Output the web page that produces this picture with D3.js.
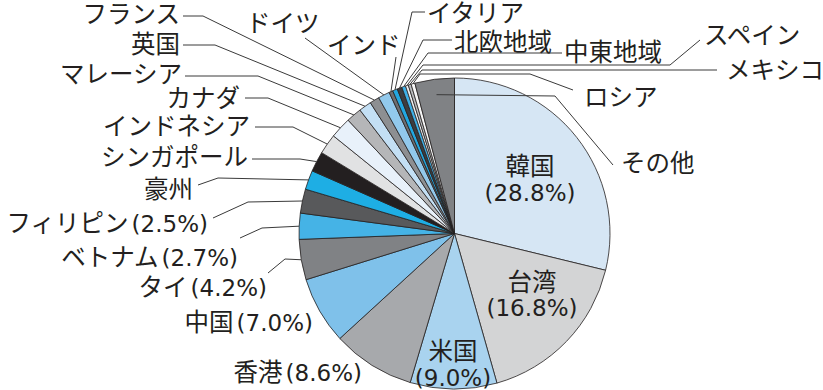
<!DOCTYPE html>
<html lang="ja">
<head>
  <meta charset="UTF-8">
  <title>輸出先別シェア</title>
  <script src="https://d3js.org/d3.v7.min.js"></script>
  <style>
    html, body {
      margin: 0;
      padding: 0;
      background: #fff;
    }
    svg text {
      font-family: "DejaVu Sans", "Noto Sans CJK JP", sans-serif;
      fill: #231f20;
    }
    .name { font-size: 24.5px; }
    .pct { font-size: 23px; }
    .slice {
      stroke: #231f20;
      stroke-width: 0.8px;
    }
    .leader {
      fill: none;
      stroke: #3a3a3a;
      stroke-width: 1px;
    }
  </style>
</head>
<body>
  <svg id="chart" width="823" height="390"></svg>

  <script>
    // shares (clockwise from 12 o'clock)
    const categories = ["韓国", "台湾", "米国", "香港", "中国", "タイ", "ベトナム", "フィリピン",
      "豪州", "シンガポール", "インドネシア", "カナダ", "マレーシア", "英国", "フランス", "ドイツ",
      "インド", "イタリア", "北欧地域", "中東地域", "スペイン", "メキシコ", "ロシア", "その他"];
    const shares = [28.8, 16.8, 9.0, 8.6, 7.0, 4.2, 2.7, 2.5,
      2.0, 2.1, 2.1, 2.2, 1.6, 1.3, 1.0, 1.2,
      0.4, 0.5, 0.5, 0.4, 0.3, 0.3, 0.4, 4.1];
    // only the larger markets carry a percentage
    const withPercent = ["韓国", "台湾", "米国", "香港", "中国", "タイ", "ベトナム", "フィリピン"];

    const colors = ["#d6e6f4", "#d3d4d5", "#a9d3ef", "#a7a9ac", "#7fc1ea", "#808285", "#45b3e6", "#58595b",
      "#1eaee4", "#231f20", "#e1e2e3", "#e8f1fa", "#b5b6b8", "#c3dff4", "#8d8f92", "#92c9ec",
      "#6d6e71", "#22a7e0", "#3d3d3f", "#3fb0e6", "#eeeff0", "#bcbec0", "#f6f6f6", "#808285"];

    const svg = d3.select("#chart");
    const cx = 454.5, cy = 233.5, R = 155.5;

    const fmt = d3.format(".1f");
    const pctText = i => `(${fmt(shares[i])}%)`;

    const pie = d3.pie().sort(null).value(d => d)(shares);
    const arc = d3.arc().innerRadius(0).outerRadius(R);

    const g = svg.append("g").attr("transform", `translate(${cx},${cy})`);

    g.selectAll("path")
      .data(pie)
      .join("path")
        .attr("class", "slice")
        .attr("d", arc)
        .attr("fill", (d, i) => colors[i]);

    // point on slice i at radius r (mid angle)
    const midPoint = (i, r) => {
      const a = (pie[i].startAngle + pie[i].endAngle) / 2;
      return [cx + r * Math.sin(a), cy - r * Math.cos(a)];
    };

    // labels inside the pie: name on top, share below
    const innerLayout = [
      { i: 0, x: 530, y1: 166, y2: 193 },
      { i: 1, x: 532, y1: 282, y2: 308 },
      { i: 2, x: 453, y1: 351, y2: 378 }
    ];
    innerLayout.forEach(l => {
      svg.append("text").attr("class", "name").attr("x", l.x).attr("y", l.y1).attr("dy", "0.38em")
        .attr("text-anchor", "middle").text(categories[l.i]);
      svg.append("text").attr("class", "pct").attr("x", l.x).attr("y", l.y2).attr("dy", "0.36em")
        .attr("text-anchor", "middle").text(pctText(l.i));
    });

    // labels outside with leader lines (last point lands on the slice)
    const outerLayout = [
      { i: 3, x: 362, y: 372, anchor: "end" },
      { i: 4, x: 313, y: 322, anchor: "end" },
      { i: 5, x: 267, y: 287, anchor: "end", line: [[268, 273], [285, 259]] },
      { i: 6, x: 238, y: 257, anchor: "end", line: [[240, 238], [262, 228]] },
      { i: 7, x: 208, y: 223, anchor: "end", line: [[213, 218], [248, 202]] },
      { i: 8, x: 193, y: 189, anchor: "end", line: [[198, 185], [218, 178]] },
      { i: 9, x: 248, y: 157, anchor: "end", line: [[252, 159], [300, 159]] },
      { i: 10, x: 250, y: 126, anchor: "end", line: [[255, 127], [293, 127]] },
      { i: 11, x: 240, y: 98, anchor: "end", line: [[245, 98], [268, 98]] },
      { i: 12, x: 182, y: 74, anchor: "end", line: [[185, 76], [258, 76]] },
      { i: 13, x: 180, y: 44, anchor: "end", line: [[183, 45], [215, 45]] },
      { i: 14, x: 180, y: 14, anchor: "end", line: [[183, 16], [203, 16]] },
      { i: 15, x: 246, y: 23, anchor: "start", line: [[305, 38]] },
      { i: 16, x: 327, y: 45, anchor: "start", line: [[396, 57]] },
      { i: 17, x: 427, y: 13, anchor: "start", line: [[425, 12], [412, 12]] },
      { i: 18, x: 454, y: 42, anchor: "start", line: [[452, 40], [423, 40]] },
      { i: 19, x: 564, y: 52, anchor: "start", line: [[562, 53], [428, 53]] },
      { i: 20, x: 704, y: 35, anchor: "start", line: [[700, 40], [670, 65], [423, 65]] },
      { i: 21, x: 726, y: 70, anchor: "start", line: [[717, 70], [422, 70]] },
      { i: 22, x: 584, y: 97, anchor: "start", line: [[573, 90], [530, 74], [420, 74]] },
      { i: 23, x: 621, y: 163, anchor: "start", line: [[613, 165], [555, 96]], r: 140 }
    ];

    const lineGen = d3.line();
    outerLayout.forEach(l => {
      if (l.line) {
        const pts = l.line.concat([midPoint(l.i, l.r || R)]);
        svg.append("path").attr("class", "leader").attr("d", lineGen(pts));
      }
      const t = svg.append("text")
        .attr("class", "name")
        .attr("x", l.x).attr("y", l.y).attr("dy", "0.38em")
        .attr("text-anchor", l.anchor);
      t.append("tspan").text(categories[l.i]);
      if (withPercent.includes(categories[l.i])) {
        t.append("tspan").attr("class", "pct").attr("dx", 3).text(pctText(l.i));
      }
    });
  </script>
</body>
</html>
